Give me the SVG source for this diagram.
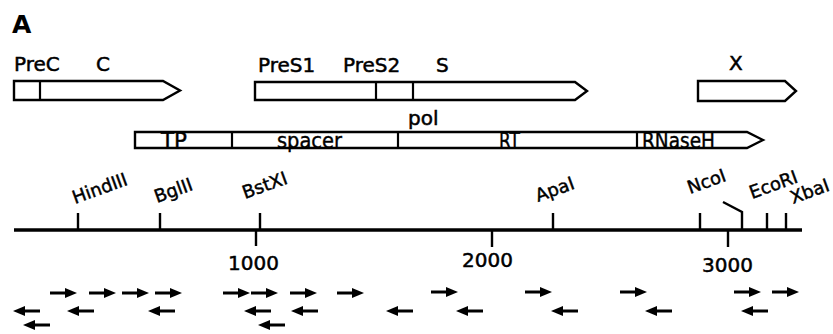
<svg xmlns="http://www.w3.org/2000/svg" xmlns:xlink="http://www.w3.org/1999/xlink" width="833" height="334" viewBox="0 0 833 334">
  <style>
    .box { fill: #fff; stroke: #000; stroke-width: 2.4; stroke-linejoin: miter; }
    .div { stroke: #000; stroke-width: 2.2; }
    .lbl { font-family: "DejaVu Sans", "Liberation Sans", sans-serif; font-size: 20px; fill: #000; stroke: #000; stroke-width: 0.5; }
    .dom { font-family: "DejaVu Sans", "Liberation Sans", sans-serif; font-size: 21px; fill: #000; stroke: #000; stroke-width: 0.4; }
    .site { font-family: "DejaVu Sans", "Liberation Sans", sans-serif; font-size: 18px; fill: #000; stroke: #000; stroke-width: 0.45; }
    .num { font-family: "DejaVu Sans", "Liberation Sans", sans-serif; font-size: 20px; fill: #000; stroke: #000; stroke-width: 0.5; }
    .axis { stroke: #000; stroke-width: 3.5; fill: none; }
    .tick { stroke: #000; stroke-width: 2.4; fill: none; }
  </style>
  <defs>
    <g id="fwd">
      <line x1="0" y1="0" x2="17" y2="0" stroke="#000" stroke-width="3"/>
      <polygon points="15,-5 27,0 15,5" fill="#000"/>
    </g>
    <g id="rev">
      <line x1="10" y1="0" x2="27" y2="0" stroke="#000" stroke-width="3"/>
      <polygon points="12,-5 0,0 12,5" fill="#000"/>
    </g>
  </defs>
  <rect width="833" height="334" fill="#fff"/>

  <text x="12" y="33" font-family="DejaVu Sans, Liberation Sans, sans-serif" font-size="25" font-weight="bold">A</text>

  <!-- core ORF -->
  <g id="orf-c">
    <path class="box" d="M14,81 H163 L180,90.5 L163,100 H14 Z"/>
    <line class="div" x1="40" y1="81" x2="40" y2="100"/>
    <text class="lbl" x="14" y="71">PreC</text>
    <text class="lbl" x="96" y="71">C</text>
  </g>

  <!-- surface ORF -->
  <g id="orf-s">
    <path class="box" d="M255,82 H575 L587,91 L575,100 H255 Z"/>
    <line class="div" x1="376" y1="82" x2="376" y2="100"/>
    <line class="div" x1="413" y1="82" x2="413" y2="100"/>
    <text class="lbl" x="258" y="72">PreS1</text>
    <text class="lbl" x="343" y="72">PreS2</text>
    <text class="lbl" x="436" y="72">S</text>
  </g>

  <!-- X ORF -->
  <g id="orf-x">
    <path class="box" d="M698,81 H785 L796,91 L785,101 H698 Z"/>
    <text class="lbl" x="729" y="70">X</text>
  </g>

  <!-- polymerase ORF -->
  <g id="orf-pol">
    <path class="box" d="M135,132 H747 L763,140 L747,148 H135 Z"/>
    <line class="div" x1="232" y1="132" x2="232" y2="148"/>
    <line class="div" x1="398" y1="132" x2="398" y2="148"/>
    <line class="div" x1="637" y1="132" x2="637" y2="148"/>
    <text class="lbl" x="408" y="125">pol</text>
    <text class="dom" x="161" y="148" textLength="26" lengthAdjust="spacingAndGlyphs">TP</text>
    <text class="dom" x="277" y="148" textLength="65" lengthAdjust="spacingAndGlyphs">spacer</text>
    <text class="dom" x="499" y="148" textLength="21" lengthAdjust="spacingAndGlyphs">RT</text>
    <text class="dom" x="642" y="148" textLength="73" lengthAdjust="spacingAndGlyphs">RNaseH</text>
  </g>

  <!-- genome coordinate axis -->
  <g id="axis">
    <line class="axis" x1="14" y1="230" x2="802" y2="230"/>
    <line class="tick" x1="256" y1="230" x2="256" y2="246"/>
    <line class="tick" x1="492" y1="230" x2="492" y2="247"/>
    <line class="tick" x1="728" y1="230" x2="728" y2="247"/>
    <text class="num" x="228" y="270">1000</text>
    <text class="num" x="462" y="267">2000</text>
    <text class="num" x="702" y="272">3000</text>
  </g>

  <!-- restriction sites -->
  <g id="sites">
    <line class="tick" x1="78" y1="213" x2="78" y2="230"/>
    <line class="tick" x1="160" y1="213" x2="160" y2="230"/>
    <line class="tick" x1="260" y1="213" x2="260" y2="230"/>
    <line class="tick" x1="553" y1="213" x2="553" y2="230"/>
    <line class="tick" x1="700" y1="213" x2="700" y2="230"/>
    <path class="tick" d="M723,202 L742,212 V230"/>
    <line class="tick" x1="767" y1="213" x2="767" y2="230"/>
    <line class="tick" x1="786" y1="213" x2="786" y2="230"/>
    <text class="site" x="75" y="204" transform="rotate(-20 75 204)">HindIII</text>
    <text class="site" x="157" y="203" transform="rotate(-20 157 203)">BglII</text>
    <text class="site" x="245" y="199" transform="rotate(-20 245 199)">BstXI</text>
    <text class="site" x="538" y="202" transform="rotate(-20 538 202)">ApaI</text>
    <text class="site" x="690" y="194" transform="rotate(-20 690 194)">NcoI</text>
    <text class="site" x="752" y="199" transform="rotate(-20 752 199)">EcoRI</text>
    <text class="site" x="793" y="204" transform="rotate(-20 793 204)">XbaI</text>
  </g>

  <!-- primers -->
  <g id="primers">
    <use xlink:href="#fwd" x="50" y="293"/>
    <use xlink:href="#fwd" x="89" y="293"/>
    <use xlink:href="#fwd" x="122" y="293"/>
    <use xlink:href="#fwd" x="155" y="293"/>
    <use xlink:href="#fwd" x="223" y="293"/>
    <use xlink:href="#fwd" x="251" y="293"/>
    <use xlink:href="#fwd" x="290" y="293"/>
    <use xlink:href="#fwd" x="337" y="293"/>
    <use xlink:href="#fwd" x="431" y="292"/>
    <use xlink:href="#fwd" x="525" y="292"/>
    <use xlink:href="#fwd" x="620" y="292"/>
    <use xlink:href="#fwd" x="734" y="292"/>
    <use xlink:href="#fwd" x="772" y="292"/>

    <use xlink:href="#rev" x="13" y="311"/>
    <use xlink:href="#rev" x="67" y="311"/>
    <use xlink:href="#rev" x="148" y="311"/>
    <use xlink:href="#rev" x="244" y="311"/>
    <use xlink:href="#rev" x="291" y="311"/>
    <use xlink:href="#rev" x="386" y="311"/>
    <use xlink:href="#rev" x="456" y="311"/>
    <use xlink:href="#rev" x="551" y="311"/>
    <use xlink:href="#rev" x="645" y="311"/>
    <use xlink:href="#rev" x="741" y="311"/>

    <use xlink:href="#rev" x="23" y="325"/>
    <use xlink:href="#rev" x="258" y="325"/>
  </g>
</svg>
